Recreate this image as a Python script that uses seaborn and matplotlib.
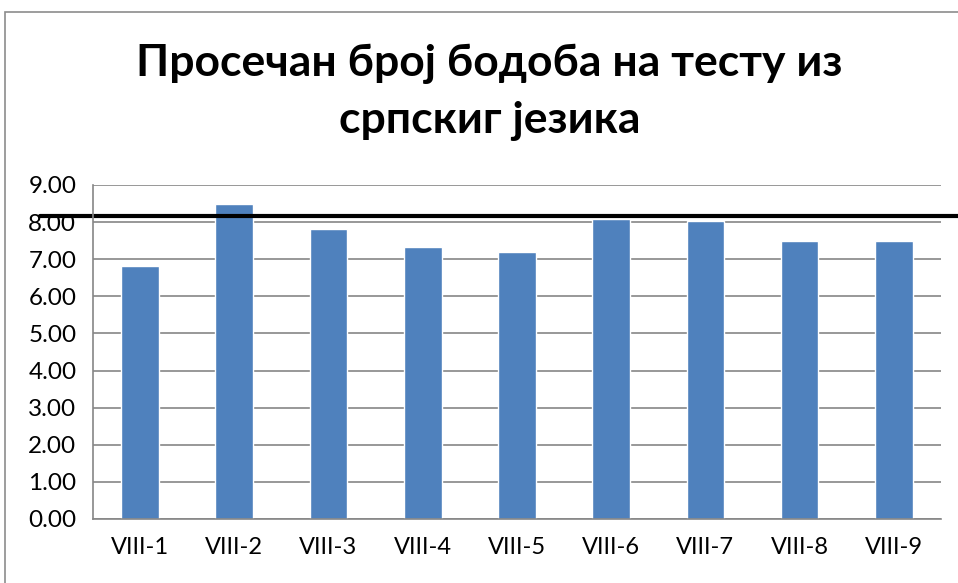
import matplotlib
matplotlib.use("Agg")
import matplotlib.pyplot as plt
import seaborn as sns
import pandas as pd
from matplotlib.patches import Rectangle

# data
classes = ['VIII-1', 'VIII-2', 'VIII-3', 'VIII-4', 'VIII-5', 'VIII-6', 'VIII-7', 'VIII-8', 'VIII-9']
avg_points = [6.82, 8.50, 7.82, 7.32, 7.19, 8.09, 8.03, 7.49, 7.48]
reference_line = 8.17
title_lines = ['Просечан број бодоба на тесту из', 'српскиг језика']

df = pd.DataFrame({'class': classes, 'points': avg_points})

sns.set_style('white')
plt.rcParams['font.family'] = ['Lato', 'DejaVu Sans']

fig = plt.figure(figsize=(9.58, 5.83), dpi=100)
ax = fig.add_axes([0.0971, 0.1098, 0.8850, 0.5729])

sns.barplot(data=df, x='class', y='points', color='#4f81bd', width=0.4,
            saturation=1, ax=ax)

ax.set_ylim(0, 9)
ax.set_xlim(-0.5, len(classes) - 0.5)
ax.set_yticks(range(0, 10))
ax.set_yticklabels([f'{v:.2f}' for v in range(0, 10)])
ax.yaxis.grid(True, color='#868686', linewidth=1.2)
ax.set_axisbelow(True)

# ticks between categories, labels centered
ax.set_xticks([i - 0.5 for i in range(len(classes) + 1)])
ax.set_xticklabels([])
ax.set_xticks(range(len(classes)), minor=True)
ax.set_xticklabels(classes, minor=True)
ax.tick_params(axis='x', which='major', length=10, width=1.2, color='#868686', direction='out')
ax.tick_params(axis='x', which='minor', length=0, labelsize=17, pad=13, labelcolor='black')
ax.tick_params(axis='y', length=10, width=1.2, color='#868686', direction='out',
               labelsize=17.5, pad=2, labelcolor='black')
ax.set_xlabel('')
ax.set_ylabel('')

for s in ['top', 'right']:
    ax.spines[s].set_visible(False)
for s in ['left', 'bottom']:
    ax.spines[s].set_color('#868686')
    ax.spines[s].set_linewidth(1.2)

# black reference line running past the plot area
ax.axhline(reference_line, xmin=-0.062, xmax=1.03, color='black', linewidth=3, clip_on=False)

# chart frame (cropped at right and bottom)
fig.patches.append(Rectangle((4.5 / 958, -0.1), 1.2, 1 - 12.5 / 583 + 0.1,
                             transform=fig.transFigure, fill=False,
                             edgecolor='#8c8c8c', linewidth=1.2))

fig.text(0.511, 0.890, title_lines[0], ha='center', va='center',
         fontsize=32, fontweight='bold', color='black')
fig.text(0.511, 0.792, title_lines[1], ha='center', va='center',
         fontsize=32, fontweight='bold', color='black')

fig.savefig('out.png', dpi=100)
